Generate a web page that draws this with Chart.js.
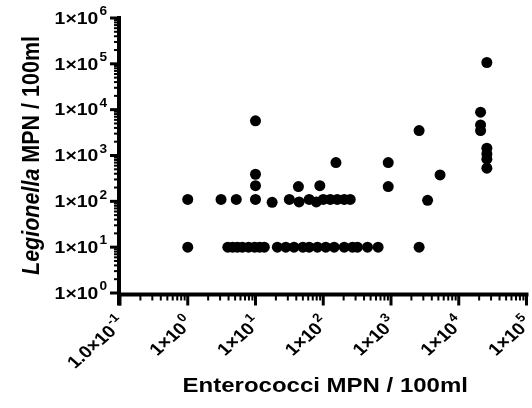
<!DOCTYPE html>
<html>
<head>
<meta charset="utf-8">
<script src="https://cdn.jsdelivr.net/npm/chart.js@4"></script>
<style>
  html, body { margin: 0; padding: 0; background: #fff; }
</style>
</head>
<body>
<canvas id="chart" width="532" height="408"></canvas>
<script>
'use strict'

// enterococci / legionella pairs (MPN / 100ml)
const enterococci = [
  1, 3.9, 4.6, 5.4, 6.4, 7.9, 9.7, 11.5, 13.5, 21, 28, 37, 50, 62, 82, 109, 145, 204, 270, 320, 450, 645, 2600,
  1, 3.1, 5.2, 10, 17.6, 31.6, 44, 62, 79, 100, 127, 161, 204, 250, 3470,
  10, 10, 10, 43, 89, 154, 910, 910, 5300, 2600,
  21000, 21000, 21000, 26000, 26000, 26000, 26000, 26000
];
const legionella = [
  10, 10, 10, 10, 10, 10, 10, 10, 10, 10, 10, 10, 10, 10, 10, 10, 10, 10, 10, 10, 10, 10, 10,
  110, 110, 110, 110, 95, 110, 97, 110, 97, 110, 110, 110, 110, 110, 105,
  5700, 390, 220, 210, 220, 700, 700, 210, 377, 3500,
  8800, 4650, 3500, 107000, 1440, 1080, 830, 530
];

const xTicks = [0.1, 1, 10, 100, 1000, 10000, 100000];
const xTickLabels = [['1.0×10', '-1'], ['1×10', '0'], ['1×10', '1'], ['1×10', '2'], ['1×10', '3'], ['1×10', '4'], ['1×10', '5']];
const yTicks = [1, 10, 100, 1000, 10000, 100000, 1000000];
const yTickLabels = [['1×10', '0'], ['1×10', '1'], ['1×10', '2'], ['1×10', '3'], ['1×10', '4'], ['1×10', '5'], ['1×10', '6']];
const xTitle = 'Enterococci MPN / 100ml';
const yTitleItalic = 'Legionella';
const yTitleRest = ' MPN / 100ml';

const points = enterococci.map((v, i) => ({ x: v, y: legionella[i] }));

const FONT = '"Liberation Sans", Arial, sans-serif';
const SX = 1.14; // the reference text is a bit wide

// draw "1x10" + superscript, right end at 0,0 of current transform
function powLabel(ctx, base, exp) {
  ctx.font = 'bold 17px ' + FONT;
  const bw = ctx.measureText(base).width;
  ctx.font = 'bold 12px ' + FONT;
  const ew = ctx.measureText(exp).width;
  const start = -(bw + ew + 1);
  ctx.textAlign = 'left';
  ctx.textBaseline = 'middle';
  ctx.font = 'bold 17px ' + FONT;
  ctx.fillText(base, start, 1);
  ctx.font = 'bold 12px ' + FONT;
  ctx.fillText(exp, start + bw + 1, -6);
}

const axisPlugin = {
  id: 'axisPlugin',
  beforeDatasetsDraw(chart) {
    const { ctx, chartArea: a, scales: { x, y } } = chart;
    const line = (x1, y1, x2, y2) => { ctx.beginPath(); ctx.moveTo(x1, y1); ctx.lineTo(x2, y2); ctx.stroke(); };
    const ax = a.left - 1;
    const ay = a.bottom + 1.5;
    ctx.save();
    ctx.strokeStyle = '#000';
    ctx.lineWidth = 4;
    line(ax, y.getPixelForValue(1e6) - 2, ax, ay + 11);
    line(ax - 2, ay, x.getPixelForValue(1e5) + 2, ay);

    // y ticks
    yTicks.forEach((v, i) => {
      const py = y.getPixelForValue(v);
      ctx.lineWidth = 3;
      line(ax - 9, py, ax, py);
      if (i < yTicks.length - 1) {
        ctx.lineWidth = 2;
        for (let k = 2; k <= 9; k++) {
          const pm = y.getPixelForValue(v * k);
          line(ax - 5, pm, ax, pm);
        }
      }
    });
    // x ticks
    xTicks.forEach((v, i) => {
      const px = x.getPixelForValue(v);
      ctx.lineWidth = 3;
      line(px, ay, px, ay + 11);
      if (i < xTicks.length - 1) {
        ctx.lineWidth = 2;
        for (let k = 2; k <= 9; k++) {
          const pm = x.getPixelForValue(v * k);
          line(pm, ay, pm, ay + 6);
        }
      }
    });
    ctx.restore();
  },
  afterDraw(chart) {
    const { ctx, chartArea: a, scales: { x, y } } = chart;
    ctx.save();
    ctx.fillStyle = '#000';

    // y tick labels
    yTicks.forEach((v, i) => {
      const py = y.getPixelForValue(v);
      ctx.save();
      ctx.translate(a.left - 13, py);
      ctx.scale(SX, 1);
      powLabel(ctx, yTickLabels[i][0], yTickLabels[i][1]);
      ctx.restore();
    });

    // x tick labels, rotated 45
    xTicks.forEach((v, i) => {
      const px = x.getPixelForValue(v);
      ctx.save();
      ctx.translate(px + 2, a.bottom + 27);
      ctx.scale(SX, 1);
      ctx.rotate(-Math.PI / 4);
      powLabel(ctx, xTickLabels[i][0], xTickLabels[i][1]);
      ctx.restore();
    });

    // x title
    ctx.save();
    ctx.translate((a.left + a.right) / 2 + 2, 386);
    ctx.scale(1.2, 1);
    ctx.font = 'bold 20px ' + FONT;
    ctx.textAlign = 'center';
    ctx.textBaseline = 'middle';
    ctx.fillText(xTitle, 0, 0);
    ctx.restore();

    // y title, "Legionella" in italics
    ctx.save();
    ctx.translate(39, (a.top + a.bottom) / 2);
    ctx.scale(1.1, 1);
    ctx.rotate(-Math.PI / 2);
    ctx.textBaseline = 'alphabetic';
    ctx.textAlign = 'left';
    ctx.font = 'italic bold 21.5px ' + FONT;
    const w1 = ctx.measureText(yTitleItalic).width;
    ctx.font = 'bold 21.5px ' + FONT;
    const w2 = ctx.measureText(yTitleRest).width;
    const sx0 = -(w1 + w2) / 2;
    ctx.font = 'italic bold 21.5px ' + FONT;
    ctx.fillText(yTitleItalic, sx0, 0);
    ctx.font = 'bold 21.5px ' + FONT;
    ctx.fillText(yTitleRest, sx0 + w1, 0);
    ctx.restore();

    ctx.restore();
  }
};

new Chart(document.getElementById('chart'), {
  type: 'scatter',
  data: {
    datasets: [{
      data: points,
      pointRadius: 5.5,
      pointHoverRadius: 5.5,
      backgroundColor: '#000',
      borderColor: '#000',
      borderWidth: 0
    }]
  },
  options: {
    responsive: false,
    animation: false,
    devicePixelRatio: 1,
    layout: { padding: { top: 18, right: 4, left: 0, bottom: 0 } },
    plugins: { legend: { display: false }, tooltip: { enabled: false } },
    scales: {
      x: {
        type: 'logarithmic', min: 0.1, max: 100000,
        grid: { display: false }, border: { display: false }, ticks: { display: false },
        afterFit(s) { s.height = 115; }
      },
      y: {
        type: 'logarithmic', min: 1, max: 1000000,
        grid: { display: false }, border: { display: false }, ticks: { display: false },
        afterFit(s) { s.width = 120; }
      }
    }
  },
  plugins: [axisPlugin]
});
</script>
</body>
</html>
